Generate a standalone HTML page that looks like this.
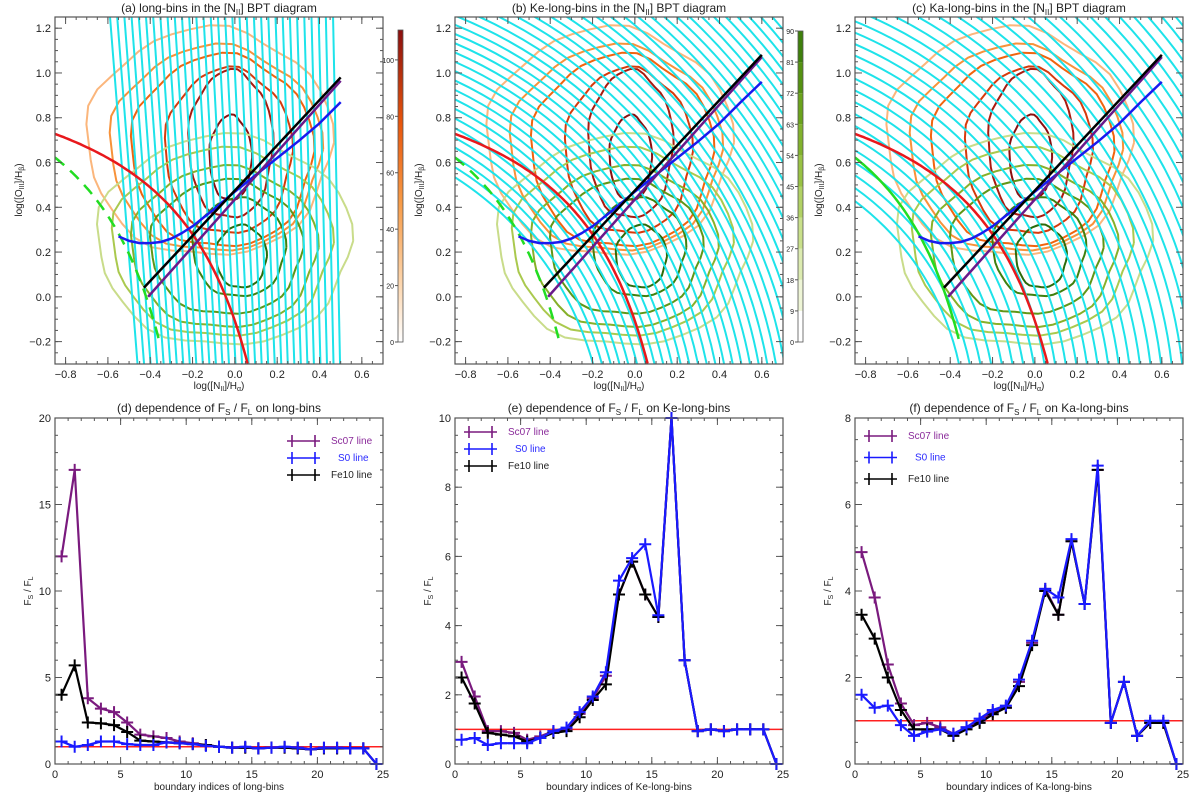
<!DOCTYPE html>
<html><head><meta charset="utf-8"><style>
html,body{margin:0;padding:0;background:#fff;overflow:hidden;width:1200px;height:800px}
svg{display:block}
svg text{font-family:"Liberation Sans",sans-serif;fill:#222}
</style></head><body>
<svg id="fig" width="1200" height="800" viewBox="0 0 1200 800" xmlns="http://www.w3.org/2000/svg">
<defs>
<clipPath id="clipA"><rect x="55" y="17" width="328" height="347"/></clipPath>
<clipPath id="clipB"><rect x="455" y="17" width="328" height="347"/></clipPath>
<clipPath id="clipC"><rect x="855" y="17" width="328" height="347"/></clipPath>
<linearGradient id="gradOr" x1="0" y1="1" x2="0" y2="0">
<stop offset="0" stop-color="#ffffff"/><stop offset="0.2" stop-color="#fcd3a8"/><stop offset="0.45" stop-color="#f79a45"/><stop offset="0.7" stop-color="#e8560c"/><stop offset="1" stop-color="#8a0f0f"/></linearGradient>
</defs>
</svg>
<script>
// ---- data for bottom panels ----
const binIndex=[0.5,1.5,2.5,3.5,4.5,5.5,6.5,7.5,8.5,9.5,10.5,11.5,12.5,13.5,14.5,15.5,16.5,17.5,18.5,19.5,20.5,21.5,22.5,23.5,24.5];
const dSc07=[12,17,3.8,3.2,3.0,2.4,1.7,1.6,1.5,1.3,1.2,1.1,1.0,0.95,0.95,0.9,0.95,0.95,0.9,0.85,0.9,0.9,0.9,0.9,0];
const dFe10=[4,5.7,2.4,2.35,2.25,1.85,1.35,1.3,1.25,1.2,1.15,1.1,1.0,0.95,0.95,0.9,0.95,0.95,0.9,0.85,0.9,0.9,0.9,0.9,0];
const dS0=[1.3,1.0,1.1,1.3,1.3,1.15,1.1,1.1,1.25,1.2,1.15,1.05,1.0,0.95,1.0,0.9,0.95,1.0,0.95,0.85,0.95,0.95,0.9,0.9,0];
const eSc07=[2.95,1.95,0.95,0.95,0.9,0.7,0.8,0.95,1.0,1.45,1.9,2.55,4.9,5.85,4.9,4.25,10.0,3.0,0.95,1.0,0.95,1.0,1.0,1.0,0];
const eFe10=[2.5,1.75,0.9,0.85,0.8,0.65,0.75,0.9,0.95,1.35,1.85,2.3,4.9,5.85,4.9,4.25,10.0,3.0,0.95,1.0,0.95,1.0,1.0,1.0,0];
const eS0=[0.7,0.75,0.55,0.6,0.6,0.6,0.75,0.95,1.05,1.5,1.95,2.65,5.3,5.95,6.35,4.3,10.0,3.0,0.95,1.0,0.95,1.0,1.0,1.0,0];
const fSc07=[4.9,3.85,2.3,1.4,0.9,0.95,0.85,0.7,0.85,1.0,1.2,1.3,1.9,2.8,4.05,3.45,5.15,3.7,6.8,0.95,1.9,0.65,0.95,0.95,0];
const fFe10=[3.45,2.9,2.0,1.25,0.8,0.8,0.8,0.65,0.8,0.95,1.15,1.3,1.8,2.75,4.0,3.45,5.15,3.7,6.8,0.95,1.9,0.65,0.95,0.95,0];
const fS0=[1.6,1.3,1.35,0.9,0.65,0.75,0.8,0.7,0.85,1.05,1.25,1.35,1.95,2.85,4.05,3.85,5.2,3.7,6.9,0.95,1.9,0.65,1.0,1.0,0];
const bottomXTicks=[0,5,10,15,20,25];
const dYTicks=[0,5,10,15,20];
const eYTicks=[0,2,4,6,8,10];
const fYTicks=[0,2,4,6,8];
// ---- data for top panels ----
const bptXTicks=[-0.8,-0.6,-0.4,-0.2,0.0,0.2,0.4,0.6];
const bptYTicks=[-0.2,0.0,0.2,0.4,0.6,0.8,1.0,1.2];
// contour ellipses: [cx, cy, rx, ry] in data units
const orangeContours=[[-0.12,0.69,0.58,0.51],[-0.09,0.66,0.5,0.46],[-0.06,0.65,0.43,0.43],[-0.03,0.65,0.3,0.37],[-0.02,0.68,0.2,0.33],[-0.02,0.62,0.1,0.19]];
const greenContours=[[-0.05,0.25,0.6,0.47],[-0.06,0.24,0.52,0.42],[-0.05,0.22,0.44,0.36],[-0.04,0.22,0.36,0.3],[0.02,0.22,0.22,0.22],[0.03,0.18,0.12,0.14]];
const blueCurveX=[-0.55,-0.5,-0.45,-0.4,-0.35,-0.3,-0.25,-0.2,-0.1,0,0.1,0.2,0.3,0.4,0.5,0.6];
const blueCurveY=[0.27,0.25,0.24,0.24,0.245,0.26,0.285,0.315,0.39,0.47,0.545,0.62,0.695,0.775,0.87,0.96];
const orangeTicks=[0,20,40,60,80,100];
const greenTicks=[0,9,18,27,36,45,54,63,72,81,90];

const NS='http://www.w3.org/2000/svg';
const svg=document.getElementById('fig');
function el(tag,attrs,parent){const e=document.createElementNS(NS,tag);for(const k in attrs)e.setAttribute(k,attrs[k]);(parent||svg).appendChild(e);return e;}
const orangeCols=['#fbb67c','#f7923a','#f0640f','#d63a0c','#a81b10','#8a0f0f'];
const greenCols=['#c9dc8a','#aac94e','#86b02a','#5f9617','#3f800e','#2c6b0a'];

function axisFrame(g,L,T,W,H,xs,ys,xTicks,xMinor,yTicks,yMinor,fmtX,fmtY){
  el('rect',{x:L,y:T,width:W,height:H,fill:'none',stroke:'#555','stroke-width':1.2},g);
  const tk=(x1,y1,x2,y2)=>el('line',{x1,y1,x2,y2,stroke:'#555','stroke-width':1},g);
  xMinor.forEach(v=>{const x=xs(v);tk(x,T+H,x,T+H-3);tk(x,T,x,T+3);});
  yMinor.forEach(v=>{const y=ys(v);tk(L,y,L+3,y);tk(L+W,y,L+W-3,y);});
  xTicks.forEach(v=>{const x=xs(v);tk(x,T+H,x,T+H-7);tk(x,T,x,T+7);
    const t=el('text',{x:x,y:T+H+14,'font-size':11,'text-anchor':'middle'},g);t.textContent=fmtX(v);
    });
  yTicks.forEach(v=>{const y=ys(v);tk(L,y,L+7,y);tk(L+W,y,L+W-7,y);
    const t=el('text',{x:L-4,y:y+4,'font-size':11,'text-anchor':'end'},g);t.textContent=fmtY(v);
    });
}
function range(a,b,s){const r=[];for(let v=a;v<=b+1e-9;v+=s)r.push(+v.toFixed(4));return r;}
function fmtBpt(v){return (v<0?'\u2212':'')+Math.abs(v).toFixed(1);}

function ellipsePath(c,xs,ys){
  let d='';const n=40;
  for(let i=0;i<=n;i++){const a=i/n*2*Math.PI;
    const w=1+0.025*Math.sin(5*a)+0.015*Math.cos(9*a);
    const x=c[0]+c[2]*w*Math.cos(a), y=c[1]+c[3]*w*Math.sin(a);
    d+=(i?'L':'M')+xs(x).toFixed(1)+','+ys(y).toFixed(1);}
  return d;
}

const letters=['a','b','c'];
const titles=['long-bins','Ke-long-bins','Ka-long-bins'];
[55,455,855].forEach((L,pi)=>{
  const T=17,W=328,H=347;
  const xs=v=>L+(v+0.85)/1.55*W, ys=v=>T+H-(v+0.3)/1.55*H;
  const g=el('g',{});
  
  
  const cl=el('g',{'clip-path':'url(#clip'+['A','B','C'][pi]+')'},g);
  orangeContours.forEach((c,i)=>{const p=el('path',{d:ellipsePath(c,xs,ys),fill:'none',stroke:orangeCols[i],'stroke-width':2,'stroke-linejoin':'round'},cl);
    });
  greenContours.forEach((c,i)=>{const p=el('path',{d:ellipsePath(c,xs,ys),fill:'none',stroke:greenCols[i],'stroke-width':2,'stroke-linejoin':'round'},cl);
    });
  const cy=el('g',{stroke:'#1ee3ea','stroke-width':2,fill:'none'},cl);
  
  if(pi===0){
    for(let i=0;i<32;i++){const xt=-0.59+i*(1.054/31), xb=-0.46+i*(0.957/31);
      el('line',{x1:xs(xt),y1:T,x2:xs(xb),y2:T+H},cy);}
  }else if(pi===1){
    const cx=xs(-1.677),cyy=ys(-0.69);
    for(let r=325;r<=680;r+=8.5)el('circle',{cx:cx,cy:cyy,r:r},cy);
  }else{
    const cx=xs(-1.63),cyy=ys(-0.555);
    for(let r=275;r<=650;r+=10.5)el('circle',{cx:cx,cy:cyy,r:r},cy);
  }
  let d='';for(let x=-0.85;x<=0.065;x+=0.01){const y=0.61/(x-0.47)+1.19;d+=(d?'L':'M')+xs(x).toFixed(1)+','+ys(y).toFixed(1);}
  const rp=el('path',{d,fill:'none',stroke:'#e8181c','stroke-width':2.5},cl);
  d='';for(let x=-0.85;x<=-0.35;x+=0.01){const y=0.61/(x-0.05)+1.3;d+=(d?'L':'M')+xs(x).toFixed(1)+','+ys(y).toFixed(1);}
  const gp=el('path',{d,fill:'none',stroke:'#22dd22','stroke-width':2.5,'stroke-dasharray':pi===2?'none':'12,8'},cl);
  const xe=pi===0?0.5:0.6;
  d='';blueCurveX.forEach((x,i)=>{if(x>xe+1e-9)return;d+=(i?'L':'M')+xs(x).toFixed(1)+','+ys(blueCurveY[i]).toFixed(1);});
  const bp=el('path',{d,fill:'none',stroke:'#1a1aee','stroke-width':2.5,'stroke-linejoin':'round'},cl);
  const pl=el('line',{x1:xs(-0.41),y1:ys(1.06*-0.41+0.435),x2:xs(xe),y2:ys(1.06*xe+0.435),stroke:'#6a1a8a','stroke-width':2.5},cl);
  const kl=el('line',{x1:xs(-0.43),y1:ys(1.01*-0.43+0.475),x2:xs(xe),y2:ys(1.01*xe+0.475),stroke:'#000','stroke-width':2.5},cl);
  axisFrame(g,L,T,W,H,xs,ys,bptXTicks,range(-0.85,0.7,0.05),bptYTicks,range(-0.3,1.25,0.05),fmtBpt,fmtBpt);
  const t=el('text',{x:L+W/2,y:12,'font-size':12,'text-anchor':'middle'},g);
  t.innerHTML='('+letters[pi]+') '+titles[pi]+' in the [N<tspan font-size="8" dy="3">II</tspan><tspan dy="-3">] BPT diagram</tspan>';
  
  const xt=el('text',{x:L+W/2,y:389,'font-size':10,'text-anchor':'middle'},g);
  xt.innerHTML='log([N<tspan font-size="7" dy="2">II</tspan><tspan dy="-2">]/H</tspan><tspan font-size="7" dy="2">α</tspan><tspan dy="-2">)</tspan>';
  
  const yt=el('text',{x:0,y:0,'font-size':10,'text-anchor':'middle',transform:'translate('+(L-33)+',190) rotate(-90)'},g);
  yt.innerHTML='log([O<tspan font-size="7" dy="2">III</tspan><tspan dy="-2">]/H</tspan><tspan font-size="7" dy="2">β</tspan><tspan dy="-2">)</tspan>';
  
});

(function(){
  const g=el('g',{});
  const top=30,bot=342,max=110.6;const cs=v=>bot-(v/max)*(bot-top);
  el('rect',{x:398,y:top,width:5,height:bot-top,fill:'url(#gradOr)',stroke:'#555','stroke-width':0.8},g);
  orangeTicks.forEach(v=>{el('line',{x1:395,y1:cs(v),x2:398,y2:cs(v),stroke:'#555'},g);
    const t=el('text',{x:394,y:cs(v)+3,'font-size':7,'text-anchor':'end'},g);t.textContent=v;});
  const g2=el('g',{});
  const top2=31,bot2=342;const cs2=v=>bot2-(v/90)*(bot2-top2);
  const gc=['#ffffff','#eef5d6','#dcebb0','#c9e08a','#b1d164','#99c244','#82b22d','#6ba31c','#559212','#3f800c'];
  for(let i=0;i<10;i++)el('rect',{x:798,y:cs2((i+1)*9),width:5,height:cs2(i*9)-cs2((i+1)*9),fill:gc[i]},g2);
  el('rect',{x:798,y:top2,width:5,height:bot2-top2,fill:'none',stroke:'#555','stroke-width':0.8},g2);
  greenTicks.forEach(v=>{el('line',{x1:795,y1:cs2(v),x2:798,y2:cs2(v),stroke:'#555'},g2);
    const t=el('text',{x:794,y:cs2(v)+3,'font-size':7,'text-anchor':'end'},g2);t.textContent=v;});
})();

const bot=[
 {L:55,ymax:20,yt:dYTicks,ym:1,s:[dSc07,dFe10,dS0],name:'long-bins',letter:'d',leg:[287,441,331,17]},
 {L:455,ymax:10,yt:eYTicks,ym:0.5,s:[eSc07,eFe10,eS0],name:'Ke-long-bins',letter:'e',leg:[464,432,508,17]},
 {L:855,ymax:8,yt:fYTicks,ym:0.5,s:[fSc07,fFe10,fS0],name:'Ka-long-bins',letter:'f',leg:[864,436,908,21.5]}];
const serCol=['#7a1a7e','#000000','#1a1aff'];
const serName=['sc07','fe10','s0'];
bot.forEach(p=>{
  const L=p.L,T=418,W=328,H=346;
  const xs=v=>L+v/25*W, ys=v=>T+H-v/p.ymax*H;
  const g=el('g',{});
  const rl=el('line',{x1:L,y1:ys(1),x2:L+W,y2:ys(1),stroke:'#ff2020','stroke-width':1.5},g);
  
  p.s.forEach((arr,si)=>{
    const sg=el('g',{},g);
    let d='';arr.forEach((v,i)=>{d+=(i?'L':'M')+xs(binIndex[i]).toFixed(1)+','+ys(v).toFixed(1);});
    el('path',{d,fill:'none',stroke:serCol[si],'stroke-width':2.2,'stroke-linejoin':'round'},sg);
    arr.forEach((v,i)=>{const x=xs(binIndex[i]),y=ys(v);
      const m=el('path',{d:'M'+(x-6)+','+y+'H'+(x+6)+'M'+x+','+(y-6)+'V'+(y+6),stroke:serCol[si],'stroke-width':2},sg);
      });
  });
  const [lx,ly,tx,dy]=p.leg;
  const labels=['Sc07 line','S0 line','Fe10 line'];const lc=['#7a1a7e','#1a1aff','#000'];const tc=['#8a2a9a','#2a2aff','#222'];
  labels.forEach((lab,i)=>{const y=ly+i*dy;const lg=el('g',{},g);
    
    el('path',{d:'M'+lx+','+y+'H'+(lx+33)+'M'+(lx+5)+','+(y-6)+'V'+(y+6)+'M'+(lx+28)+','+(y-6)+'V'+(y+6),stroke:lc[i],'stroke-width':1.6},lg);
    const t=el('text',{x:tx+(i===1?7:0),y:y+3,'font-size':10,style:'fill:'+tc[i]},lg);t.textContent=lab;});
  axisFrame(g,L,T,W,H,xs,ys,bottomXTicks,range(0,25,1),p.yt,range(0,p.ymax,p.ym),v=>v,v=>v);
  const t=el('text',{x:L+W/2,y:412,'font-size':12,'text-anchor':'middle'},g);
  t.innerHTML='('+p.letter+') dependence of F<tspan font-size="8" dy="3">S</tspan><tspan dy="-3"> / F</tspan><tspan font-size="8" dy="3">L</tspan><tspan dy="-3"> on '+p.name+'</tspan>';
  
  const xt=el('text',{x:L+W/2,y:790,'font-size':10,'text-anchor':'middle'},g);xt.textContent='boundary indices of '+p.name;
  
  const yt=el('text',{x:0,y:0,'font-size':10,'text-anchor':'middle',transform:'translate('+(L-24)+',591) rotate(-90)'},g);
  yt.innerHTML='F<tspan font-size="7" dy="2">S</tspan><tspan dy="-2"> / F</tspan><tspan font-size="7" dy="2">L</tspan>';
  
});
</script>
</body></html>
